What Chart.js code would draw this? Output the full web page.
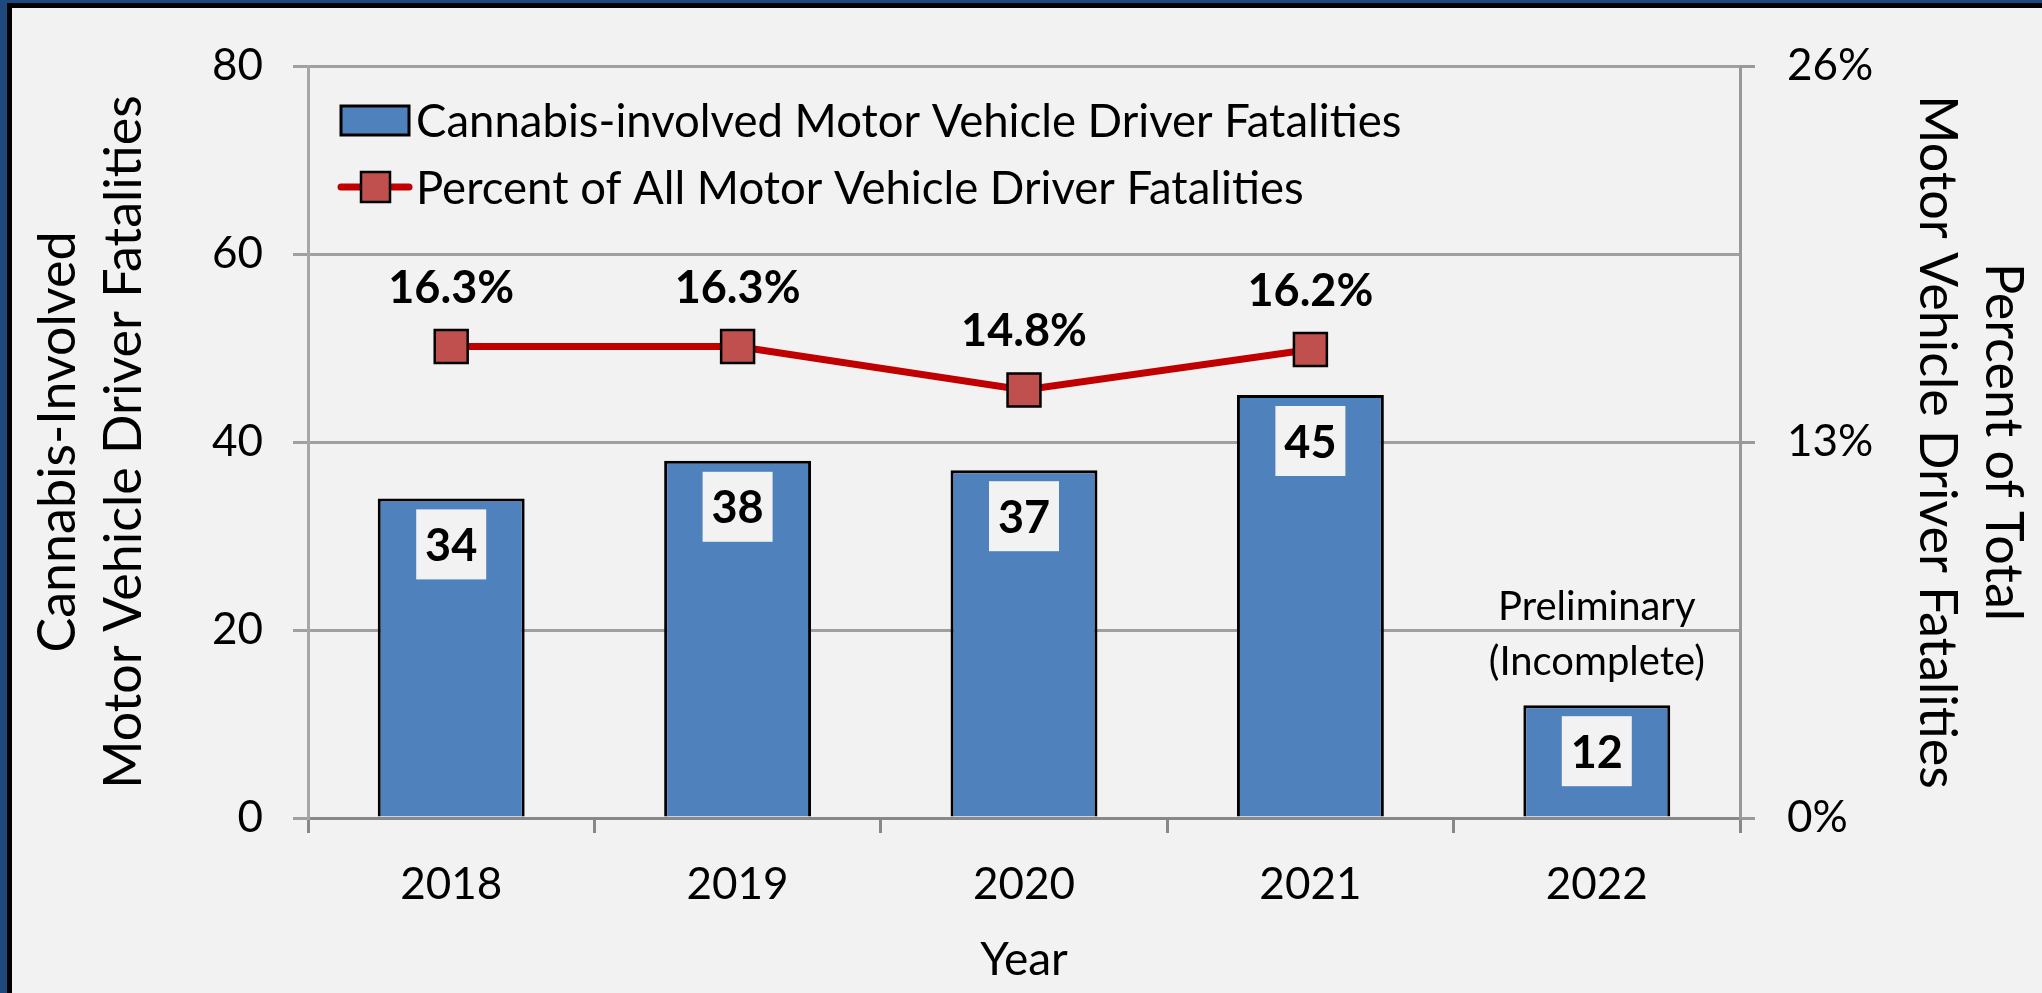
<!DOCTYPE html>
<html>
<head>
<meta charset="utf-8">
<script src="https://cdn.jsdelivr.net/npm/chart.js@4.4.1/dist/chart.umd.min.js"></script>
<style>
  html, body { margin: 0; padding: 0; background: #f2f2f2; overflow: hidden; }
  canvas { display: block; }
</style>
</head>
<body>
<canvas id="chart" width="2042" height="993"></canvas>
<script>
const years = ['2018', '2019', '2020', '2021', '2022'];
const fatalities = [34, 38, 37, 45, 12];
const percentOfAll = [16.3, 16.3, 14.8, 16.2, null];
const countTicks = [0, 20, 40, 60, 80];
const percentTicks = [0, 13, 26];
const noteYear = '2022';
const noteText = ['Preliminary', '(Incomplete)'];

const FONT = 'Lato, "Open Sans", sans-serif';
const BAR_BLUE = '#4f81bd';
const LINE_RED = '#c00000';
const MARKER_RED = '#c0504d';

// background + the blue/black frame on the left and top edges
const frame = {
    id: 'frame',
    beforeDraw(chart) {
        const { ctx, width, height } = chart;
        ctx.save();
        ctx.fillStyle = '#f2f2f2';
        ctx.fillRect(0, 0, width, height);
        ctx.fillStyle = '#1f497d';
        ctx.fillRect(0, 0, 7, height);
        ctx.fillRect(0, 0, width, 3);
        ctx.fillStyle = '#000';
        ctx.fillRect(7, 3, 5, height);
        ctx.fillRect(7, 3, width, 5);
        ctx.restore();
    }
};

// value labels, the 2022 note and the in-plot legend
const labels = {
    id: 'labels',
    afterDatasetsDraw(chart) {
        const ctx = chart.ctx;
        const lineMeta = chart.getDatasetMeta(0);
        const barMeta = chart.getDatasetMeta(1);
        ctx.save();
        ctx.textAlign = 'center';
        ctx.textBaseline = 'middle';
        ctx.font = `bold 45px ${FONT}`;

        barMeta.data.forEach((bar, i) => {
            const top = bar.y + 11;
            ctx.fillStyle = '#f2f2f2';
            ctx.fillRect(bar.x - 35, top, 70, 70);
            ctx.fillStyle = '#000';
            ctx.fillText(String(fatalities[i]), bar.x, top + 37);
        });

        lineMeta.data.forEach((pt, i) => {
            if (percentOfAll[i] == null) return;
            ctx.fillText(percentOfAll[i].toFixed(1) + '%', pt.x, pt.y - 58);
        });

        const noteBar = barMeta.data[years.indexOf(noteYear)];
        ctx.font = `40px ${FONT}`;
        ctx.fillText(noteText[0], noteBar.x, noteBar.y - 98);
        ctx.fillText(noteText[1], noteBar.x, noteBar.y - 43);

        // legend
        const ca = chart.chartArea;
        const lx = ca.left + 33;
        const textX = ca.left + 108;
        const y1 = ca.top + 54;
        const y2 = ca.top + 121;
        ctx.textAlign = 'left';
        ctx.font = `45.5px ${FONT}`;

        ctx.fillStyle = BAR_BLUE;
        ctx.fillRect(lx, y1 - 14, 68, 29);
        ctx.lineWidth = 3;
        ctx.strokeStyle = '#000';
        ctx.strokeRect(lx, y1 - 14, 68, 29);
        ctx.fillStyle = '#000';
        ctx.fillText(chart.data.datasets[1].label, textX, y1 + 2);

        ctx.strokeStyle = LINE_RED;
        ctx.lineWidth = 7;
        ctx.lineCap = 'round';
        ctx.beginPath();
        ctx.moveTo(lx, y2);
        ctx.lineTo(lx + 68, y2);
        ctx.stroke();
        ctx.fillStyle = MARKER_RED;
        ctx.fillRect(lx + 20, y2 - 15, 29, 30);
        ctx.lineWidth = 2.5;
        ctx.strokeStyle = '#000';
        ctx.strokeRect(lx + 20, y2 - 15, 29, 30);
        ctx.fillStyle = '#000';
        ctx.fillText(chart.data.datasets[0].label, textX, y2 + 2);

        ctx.restore();
    }
};

const ctx = document.getElementById('chart').getContext('2d');

const chart = new Chart(ctx, {
    type: 'bar',
    data: {
        labels: years,
        datasets: [
            {
                type: 'line',
                label: 'Percent of All Motor Vehicle Driver Fatalities',
                data: percentOfAll,
                yAxisID: 'y2',
                borderColor: LINE_RED,
                borderWidth: 7,
                pointStyle: 'rect',
                pointRadius: 23.3,
                pointBackgroundColor: MARKER_RED,
                pointBorderColor: '#000',
                pointBorderWidth: 2.5,
                tension: 0,
                order: 0,
            },
            {
                type: 'bar',
                label: 'Cannabis-involved Motor Vehicle Driver Fatalities',
                data: fatalities,
                yAxisID: 'y',
                backgroundColor: BAR_BLUE,
                borderColor: '#000',
                borderWidth: 3,
                barPercentage: 0.513,
                categoryPercentage: 1,
                order: 1,
            },
        ],
    },
    options: {
        responsive: false,
        animation: false,
        devicePixelRatio: 1,
        layout: { padding: { left: 12, top: 66, right: 0, bottom: 0 } },
        plugins: {
            legend: { display: false },
            tooltip: { enabled: false },
        },
        scales: {
            x: {
                offset: true,
                grid: { display: true, drawOnChartArea: false, drawTicks: true, tickLength: 15, offset: true, color: '#888', lineWidth: 3 },
                border: { display: true, color: '#888', width: 3 },
                ticks: { color: '#000', font: { family: FONT, size: 44 }, padding: 25 },
                title: { display: true, text: 'Year', color: '#000', font: { family: FONT, size: 46 }, padding: { top: 0, bottom: 5 } },
                afterFit: (s) => { s.height = 175; },
            },
            y: {
                position: 'left',
                min: countTicks[0],
                max: countTicks[countTicks.length - 1],
                afterBuildTicks: (s) => { s.ticks = countTicks.map(v => ({ value: v })); },
                grid: { color: '#a0a0a0', lineWidth: 3, tickLength: 15 },
                border: { display: true, color: '#a6a6a6', width: 3 },
                ticks: { color: '#000', font: { family: FONT, size: 44 }, padding: 30 },
                title: {
                    display: true,
                    text: ['Cannabis-Involved', 'Motor Vehicle Driver Fatalities'],
                    color: '#000',
                    font: { family: FONT, size: 52, lineHeight: 1.27 },
                    padding: { top: 13, bottom: 0 },
                },
                afterFit: (s) => { s.width = 296; },
            },
            y2: {
                position: 'right',
                min: percentTicks[0],
                max: percentTicks[percentTicks.length - 1],
                afterBuildTicks: (s) => { s.ticks = percentTicks.map(v => ({ value: v })); },
                grid: { drawOnChartArea: false, color: '#999', lineWidth: 3, tickLength: 15 },
                border: { display: true, color: '#999', width: 3 },
                ticks: { color: '#000', font: { family: FONT, size: 44 }, padding: 32, callback: (v) => v + '%' },
                title: {
                    display: true,
                    text: ['Percent of Total', 'Motor Vehicle Driver Fatalities'],
                    color: '#000',
                    font: { family: FONT, size: 52, lineHeight: 1.27 },
                    padding: { top: 6, bottom: 0 },
                },
                afterFit: (s) => { s.width = 302; },
            },
        },
    },
    plugins: [frame, labels],
});
</script>
</body>
</html>
